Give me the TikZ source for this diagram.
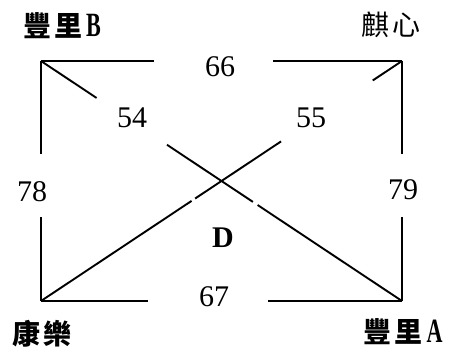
\documentclass[tikz,border=0pt]{standalone}
\usepackage{fontspec}
\setmainfont{Liberation Serif}
\newfontfamily\cjk{Noto Sans CJK TC}
\usetikzlibrary{calc}
\newcommand{\latletter}[1]{\scalebox{0.65}[1]{\fontsize{34}{34}\selectfont\rmfamily\bfseries #1}}
\begin{document}
\begin{tikzpicture}[x=1pt,y=-1pt,
  edge/.style={line width=1.9pt},
  num/.style={font=\fontsize{30}{30}\selectfont, inner sep=0pt},
  place/.style={font=\cjk\bfseries\fontsize{28}{28}\selectfont, inner sep=0pt},
  placelight/.style={font=\cjk\fontsize{28}{28}\selectfont, inner sep=0pt}]
\useasboundingbox (0,0) rectangle (452,351);
\coordinate (TL) at (41,61);
\coordinate (TR) at (402,61);
\coordinate (BL) at (41,301);
\coordinate (BR) at (402,301);
% corner labels
\node[place] (fengB) at (62,26) {豐\hspace{3pt}里\hspace{4pt}\latletter{B}};
\node[placelight] (qixin) at (391,25) {麒\hspace{3pt}心};
\node[place] (kangle) at (42,334) {康\hspace{3pt}樂};
\node[place] (fengA) at (403,332) {豐\hspace{3pt}里\hspace{4pt}\latletter{A}};
% weights
\node[num] (w66) at (220,67) {66};
\node[num] (w54) at (132,118) {54};
\node[num] (w55) at (311,118) {55};
\node[num] (w78) at (32,192) {78};
\node[num] (w79) at (403,190) {79};
\node[num,font=\fontsize{30}{30}\selectfont\bfseries] (wD) at (223,238) {D};
\node[num] (w67) at (214,297) {67};
% top edge
\draw[edge] (TL) -- ($(TL)!0.313!(TR)$);
\draw[edge] ($(TL)!0.643!(TR)$) -- (TR);
% bottom edge
\draw[edge] (BL) -- ($(BL)!0.296!(BR)$);
\draw[edge] ($(BL)!0.629!(BR)$) -- (BR);
% left edge
\draw[edge] (TL) -- ($(TL)!0.3875!(BL)$);
\draw[edge] ($(TL)!0.65!(BL)$) -- (BL);
% right edge
\draw[edge] (TR) -- ($(TR)!0.3875!(BR)$);
\draw[edge] ($(TR)!0.65!(BR)$) -- (BR);
% diagonal TL-BR
\draw[edge] (TL) -- ($(TL)!0.154!(BR)$);
\draw[edge] ($(TL)!0.349!(BR)$) -- ($(TL)!0.587!(BR)$);
\draw[edge] ($(TL)!0.600!(BR)$) -- (BR);
% diagonal BL-TR
\draw[edge] (BL) -- ($(BL)!0.417!(TR)$);
\draw[edge] ($(BL)!0.427!(TR)$) -- ($(BL)!0.665!(TR)$);
\draw[edge] ($(BL)!0.919!(TR)$) -- (TR);
\end{tikzpicture}
\end{document}
